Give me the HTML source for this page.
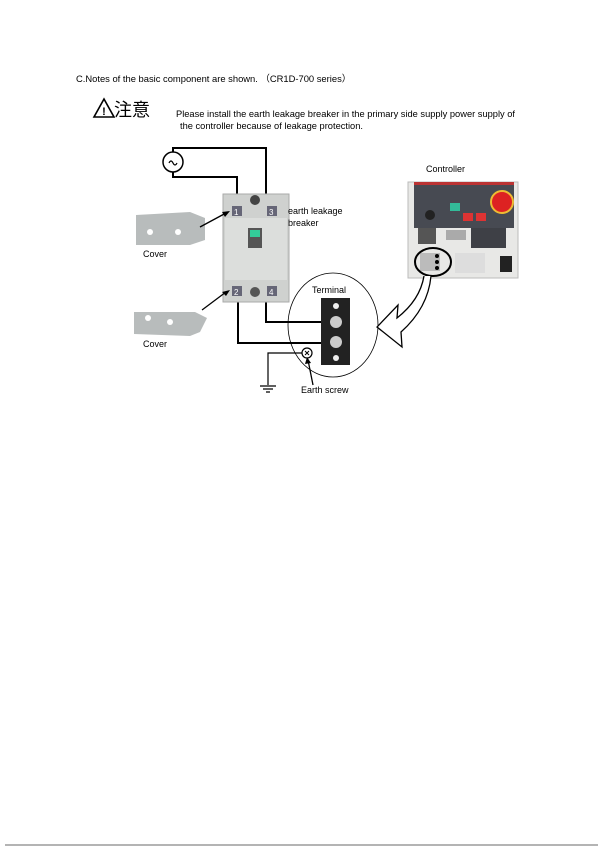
<!DOCTYPE html>
<html><head><meta charset="utf-8"><style>
html,body{margin:0;padding:0;background:#fff;}
svg{display:block;font-family:"Liberation Sans","Noto Sans CJK JP",sans-serif;}
</style></head><body>
<svg width="600" height="851" viewBox="0 0 600 851" xmlns="http://www.w3.org/2000/svg">
<text x="76" y="82" font-size="9.4" fill="#000">C.Notes of the basic component are shown. （CR1D-700 series）</text>
<path d="M104 99 L114 117 L94 117 Z" fill="none" stroke="#000" stroke-width="1.6"/>
<text x="104" y="115" font-size="11" text-anchor="middle" font-weight="bold">!</text>
<text x="114" y="116" font-size="18" fill="#000">注意</text>
<text x="176" y="117" font-size="9.3">Please install the earth leakage breaker in the primary side supply power supply of</text>
<text x="180" y="129" font-size="9.3">the controller because of leakage protection.</text>
<g fill="none" stroke="#000" stroke-width="2">
<circle cx="173" cy="162" r="10" stroke-width="1.5"/>
<path d="M169 163 q2 -4 4 0 q2 4 4 0" stroke-width="1.2"/>
<path d="M173 152 V148 H266 V210"/>
<path d="M173 172 V177 H237 V210"/>
<path d="M238 298 V343 H328"/>
<path d="M266 298 V322 H328"/>
<path d="M303 353 H268 V385" stroke-width="1.2"/>
<path d="M260 386 H276 M263 389 H273 M266 392 H270" stroke-width="1.2"/>
</g>
<rect x="223" y="194" width="66" height="108" fill="#cfd1cf" stroke="#aaa"/>
<rect x="225" y="218" width="62" height="62" fill="#dcdedc"/>
<rect x="248" y="228" width="14" height="20" fill="#555"/>
<rect x="250" y="230" width="10" height="7" fill="#3c9"/>
<rect x="232" y="206" width="10" height="10" fill="#667"/><text x="234" y="215" font-size="8" fill="#fff">1</text>
<rect x="267" y="206" width="10" height="10" fill="#667"/><text x="269" y="215" font-size="8" fill="#fff">3</text>
<rect x="232" y="286" width="10" height="10" fill="#667"/><text x="234" y="295" font-size="8" fill="#fff">2</text>
<rect x="267" y="286" width="10" height="10" fill="#667"/><text x="269" y="295" font-size="8" fill="#fff">4</text>
<circle cx="255" cy="200" r="5" fill="#444"/><circle cx="255" cy="292" r="5" fill="#555"/>
<path d="M136 215 L190 212 L205 218 L205 240 L190 245 L136 245 Z" fill="#b8bcbc"/>
<circle cx="150" cy="232" r="3" fill="#fff"/><circle cx="178" cy="232" r="3" fill="#fff"/>
<path d="M134 312 L195 312 L207 318 L200 332 L190 336 L134 334 Z" fill="#b8bcbc"/>
<circle cx="148" cy="318" r="3" fill="#fff"/><circle cx="170" cy="322" r="3" fill="#fff"/>
<g stroke="#000" stroke-width="1.3">
<line x1="200" y1="227" x2="226" y2="213"/><line x1="202" y1="310" x2="226" y2="292"/>
<line x1="313" y1="385" x2="308" y2="360"/>
</g>
<path d="M230 211 L222 212 L225 217 Z M230 290 L222 292 L226 296 Z M307 357 L305 364 L311 363 Z"/>
<text x="143" y="257" font-size="9">Cover</text>
<text x="143" y="347" font-size="9">Cover</text>
<text x="288" y="214" font-size="9">earth leakage</text>
<text x="288" y="226" font-size="9">breaker</text>
<ellipse cx="333" cy="325" rx="45" ry="52" fill="none" stroke="#000" stroke-width="0.8"/>
<text x="312" y="293" font-size="9">Terminal</text>
<rect x="321" y="298" width="29" height="67" fill="#222"/>
<circle cx="336" cy="306" r="3" fill="#eee"/>
<circle cx="336" cy="322" r="6" fill="#ccc"/><circle cx="336" cy="342" r="6" fill="#ccc"/>
<circle cx="336" cy="358" r="3" fill="#eee"/>
<circle cx="307" cy="353" r="5" fill="#fff" stroke="#000" stroke-width="1.2"/>
<path d="M305 351 l4 4 M309 351 l-4 4" stroke="#000"/>
<text x="301" y="393" font-size="9">Earth screw</text>
<text x="426" y="172" font-size="9">Controller</text>
<rect x="408" y="182" width="110" height="96" fill="#e8e8e6" stroke="#bbb"/>
<rect x="414" y="184" width="100" height="44" fill="#474a52"/>
<rect x="414" y="182" width="100" height="3" fill="#b33"/>
<circle cx="502" cy="202" r="11" fill="#d22" stroke="#eb3" stroke-width="2"/>
<rect x="450" y="203" width="10" height="8" fill="#3b9"/>
<rect x="463" y="213" width="10" height="8" fill="#d33"/><rect x="476" y="213" width="10" height="8" fill="#d33"/>
<circle cx="430" cy="215" r="5" fill="#222"/>
<rect x="418" y="228" width="18" height="16" fill="#555"/>
<rect x="446" y="230" width="20" height="10" fill="#aaa"/>
<rect x="471" y="228" width="35" height="20" fill="#3e4046"/>
<rect x="500" y="256" width="12" height="16" fill="#222"/>
<rect x="455" y="253" width="30" height="20" fill="#ddd"/>
<rect x="420" y="253" width="20" height="18" fill="#bbb"/>
<circle cx="437" cy="256" r="2"/><circle cx="437" cy="262" r="2"/><circle cx="437" cy="268" r="2"/>
<ellipse cx="433" cy="262" rx="18" ry="14" fill="none" stroke="#000" stroke-width="2"/>
<path d="M424 276 Q420 300 397 318 L398 305 L377 327 L402 347 L401 332 Q428 308 431 276" fill="#fff" stroke="#000" stroke-width="1.3" stroke-linejoin="miter"/>
<line x1="5" y1="845" x2="598" y2="845" stroke="#888" stroke-width="1.2"/>
</svg>
</body></html>
